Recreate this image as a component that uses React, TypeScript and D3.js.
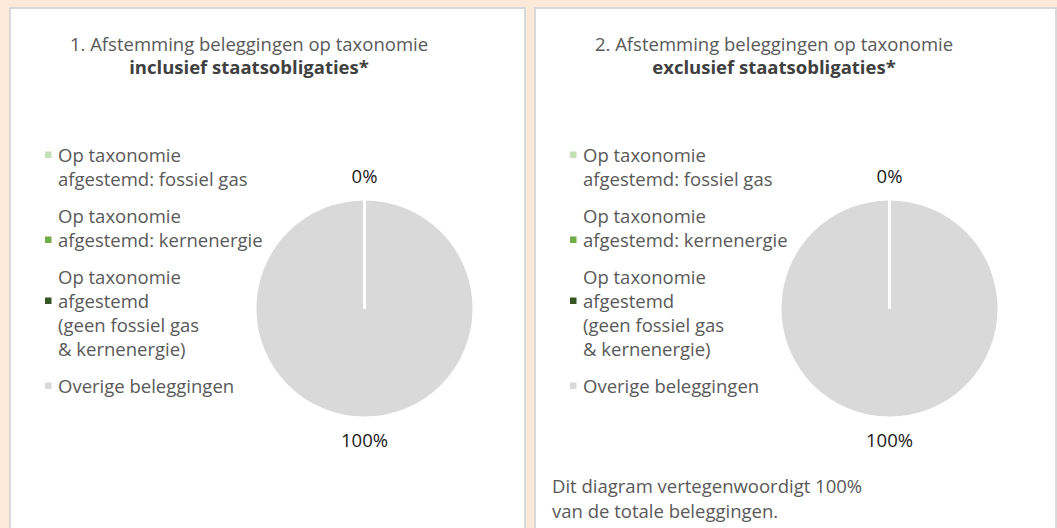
import React from "react";
import * as d3 from "d3";

const categories = [
  ["Op taxonomie", "afgestemd: fossiel gas"],
  ["Op taxonomie", "afgestemd: kernenergie"],
  ["Op taxonomie", "afgestemd", "(geen fossiel gas", "& kernenergie)"],
  ["Overige beleggingen"],
];
const colors = ["#C5E0B4", "#70AD47", "#375623", "#D9D9D9"];
const valuesIncl = [0, 0, 0, 100];
const valuesExcl = [0, 0, 0, 100];
const titleLine1 = [
  "1. Afstemming beleggingen op taxonomie",
  "2. Afstemming beleggingen op taxonomie",
];
const titleLine2 = ["inclusief staatsobligaties*", "exclusief staatsobligaties*"];
const footnote = ["Dit diagram vertegenwoordigt 100%", "van de totale beleggingen."];

const W = 1057;
const H = 528;
const FONT = "'Open Sans', 'Noto Sans', sans-serif";
const FS = 18.5;
const markerLine = [0, 1, 1, 0];

type PanelProps = { x: number; w: number; idx: number; values: number[]; note?: string[] };

function Panel({ x, w, idx, values, note }: PanelProps) {
  const cx = 354.5;
  const cy = 308.5;
  const r = 109.5;
  const pie = d3
    .pie<number>()
    .value((d) => d)
    .sort(null)
    .startAngle(0)
    .endAngle(2 * Math.PI);
  const arcs = pie(values);
  const arc = d3.arc<d3.PieArcDatum<number>>().innerRadius(0).outerRadius(r);
  const labelArc = d3.arc<d3.PieArcDatum<number>>().innerRadius(132).outerRadius(132);
  const fmt = d3.format(".0%");
  const total = d3.sum(values);

  const lineH = 24;
  const gap = 37;
  let yy = 155;
  const legend = categories.map((lines, i) => {
    const start = yy;
    yy += (lines.length - 1) * lineH + gap;
    return { lines, start, i };
  });

  const seen = new Set<string>();
  const labels = arcs.filter((a) => {
    const [lx, ly] = labelArc.centroid(a);
    const key = `${Math.round(lx)}_${Math.round(ly)}`;
    if (seen.has(key)) return false;
    seen.add(key);
    return true;
  });

  const drawOrder = [...arcs].sort((a, b) => b.value - a.value);

  return (
    <g transform={`translate(${x},0)`}>
      <rect x={0} y={8} width={w} height={H + 10} fill="#FFFFFF" stroke="#D9D9D9" strokeWidth={2} />
      <text x={239} y={51} textAnchor="middle" fontSize={FS} fill="#595959" fontFamily={FONT}>
        {titleLine1[idx]}
      </text>
      <text x={239} y={74} textAnchor="middle" fontSize={FS} fontWeight="bold" fill="#404040" fontFamily={FONT}>
        {titleLine2[idx]}
      </text>
      {legend.map(({ lines, start, i }) => (
        <g key={i}>
          <rect x={35} y={start + markerLine[i] * lineH - 3.5} width={6.5} height={6.5} fill={colors[i]} />
          {lines.map((t, j) => (
            <text key={j} x={48} y={start + j * lineH + 6.5} fontSize={FS} fill="#595959" fontFamily={FONT}>
              {t}
            </text>
          ))}
        </g>
      ))}
      <g transform={`translate(${cx},${cy})`}>
        {drawOrder.map((a) => (
          <path key={a.index} d={arc(a) || ""} fill={colors[a.index]} stroke="#FFFFFF" strokeWidth={3} />
        ))}
        {labels.map((a, i) => {
          const [lx, ly] = labelArc.centroid(a);
          return (
            <text key={i} x={lx} y={ly + 6.5} textAnchor="middle" fontSize={FS} fill="#1A1A1A" fontFamily={FONT}>
              {fmt(a.data / total)}
            </text>
          );
        })}
      </g>
      {note &&
        note.map((t, j) => (
          <text key={j} x={17} y={493 + j * 25} fontSize={FS} fill="#595959" fontFamily={FONT}>
            {t}
          </text>
        ))}
    </g>
  );
}

export default function App() {
  return (
    <svg
      width={W}
      height={H}
      viewBox={`0 0 ${W} ${H}`}
      style={{ position: "absolute", left: 0, top: 0, display: "block" }}
    >
      <rect x={0} y={0} width={W} height={H} fill="#FCE9D8" />
      <Panel x={10} w={515} idx={0} values={valuesIncl} />
      <Panel x={535} w={521} idx={1} values={valuesExcl} note={footnote} />
    </svg>
  );
}
